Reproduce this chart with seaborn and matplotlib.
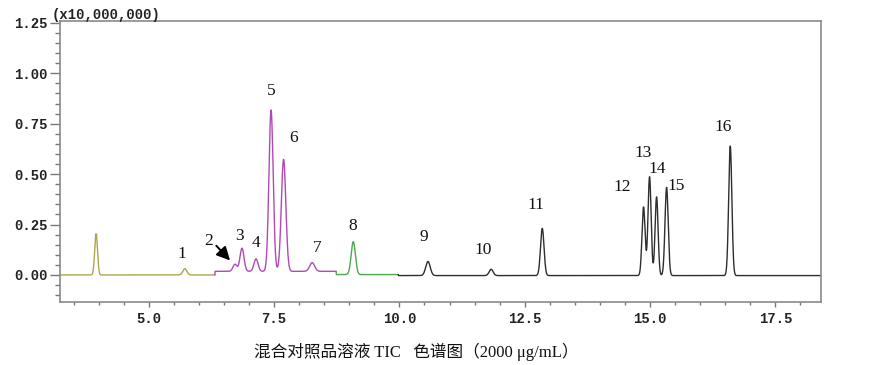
import numpy as np
import pandas as pd
import matplotlib
matplotlib.use("Agg")
import matplotlib.pyplot as plt
from matplotlib.ticker import MultipleLocator, FormatStrFormatter
import seaborn as sns

# peak table (retention time in min, height in x10,000,000 above segment baseline)
peak_labels = ["", "1", "2", "3", "4", "5", "6", "7", "8", "9", "10", "11", "12", "13", "14", "15", "16"]
peak_rt = [3.95, 5.72, 6.72, 6.86, 7.14, 7.44, 7.69, 8.26, 9.08, 10.57, 11.83, 12.85, 14.87, 14.99, 15.13, 15.33, 16.60]
peak_height = [0.205, 0.031, 0.035, 0.115, 0.062, 0.80, 0.555, 0.043, 0.163, 0.07, 0.031, 0.234, 0.34, 0.49, 0.39, 0.437, 0.642]
peak_sigma = [0.028, 0.04, 0.04, 0.04, 0.04, 0.042, 0.045, 0.05, 0.042, 0.045, 0.04, 0.035, 0.031, 0.031, 0.03, 0.032, 0.032]

# where each peak number is printed
label_x = [None, 5.66, 6.20, 6.81, 7.14, 7.44, 7.88, 8.37, 9.07, 10.49, 11.68, 12.73, 14.44, 14.86, 15.14, 15.52, 16.46]
label_y = [None, 0.105, 0.17, 0.195, 0.158, 0.912, 0.681, 0.134, 0.244, 0.188, 0.125, 0.348, 0.436, 0.607, 0.525, 0.442, 0.733]

# acquisition segments (each drawn in its own colour)
seg_names = ["seg1", "seg2", "seg3", "seg4"]
seg_start = [3.23, 6.32, 8.74, 9.98]
seg_base = [0.0, 0.018, 0.002, -0.003]
seg_colors = ["#aba64c", "#b04ab3", "#4ea84e", "#2e2e2e"]

x_min, x_max = 3.23, 18.41
y_min, y_max = -0.134, 1.259

caption = "混合对照品溶液 TIC   色谱图（2000 μg/mL）"

# build the trace from the peak table
t = np.linspace(x_min, x_max, 8000)
seg_idx = np.searchsorted(seg_start, t, side="right") - 1
signal = np.array(seg_base)[seg_idx].astype(float)
for rt, h, s in zip(peak_rt, peak_height, peak_sigma):
    signal = signal + h * np.exp(-0.5 * ((t - rt) / s) ** 2)

df = pd.DataFrame({"time": t, "signal": signal, "segment": np.array(seg_names)[seg_idx]})

# let each segment start from the last point of the one before, so the trace is joined
joins = []
for k in range(1, len(seg_names)):
    last = df[df["segment"] == seg_names[k - 1]].iloc[-1].copy()
    last["segment"] = seg_names[k]
    joins.append(last)
df = pd.concat([df, pd.DataFrame(joins)], ignore_index=True)
df["time"] = df["time"].astype(float)
df["signal"] = df["signal"].astype(float)

sns.set_style("ticks")
mono = ["Liberation Mono", "DejaVu Sans Mono"]
serif = ["Liberation Serif", "Noto Sans CJK SC"]

fig = plt.figure(figsize=(8.7, 3.65), dpi=100)
ax = fig.add_axes([60 / 870, 1 - 302 / 365, (821 - 60) / 870, (302 - 21) / 365])

sns.lineplot(data=df, x="time", y="signal", hue="segment",
             palette=dict(zip(seg_names, seg_colors)), estimator=None,
             linewidth=1.0, legend=False, ax=ax)

ax.set_xlim(x_min, x_max)
ax.set_ylim(y_min, y_max)
ax.set_xlabel("")
ax.set_ylabel("")

ax.xaxis.set_major_locator(MultipleLocator(2.5))
ax.xaxis.set_minor_locator(MultipleLocator(0.5))
ax.yaxis.set_major_locator(MultipleLocator(0.25))
ax.yaxis.set_minor_locator(MultipleLocator(0.05))
ax.xaxis.set_major_formatter(FormatStrFormatter("%.1f"))
ax.yaxis.set_major_formatter(FormatStrFormatter("%.2f"))

for sp in ax.spines.values():
    sp.set_visible(True)
    sp.set_color("#8a8a8a")
    sp.set_linewidth(1.2)

ax.tick_params(axis="y", which="major", direction="out", length=7.5, width=1.0, color="#777777", pad=1.5)
ax.tick_params(axis="y", which="minor", direction="out", length=3.6, width=1.0, color="#777777")
ax.tick_params(axis="x", which="major", direction="out", length=3.6, width=1.0, color="#777777", pad=3.5)
ax.tick_params(axis="x", which="minor", direction="out", length=2.2, width=1.0, color="#777777")
for lab in ax.get_xticklabels() + ax.get_yticklabels():
    lab.set_family(mono)
    lab.set_fontweight("bold")
    lab.set_fontsize(10)
    lab.set_color("#222222")

# peak numbers
for name, lx, ly in zip(peak_labels, label_x, label_y):
    if name:
        ax.text(lx, ly, name, ha="center", va="center", fontsize=12.5, family=serif, color="#111111")

# arrow pointing at the shoulder peak 2
ax.annotate("", xy=(6.66, 0.062), xytext=(6.31, 0.155),
            arrowprops=dict(arrowstyle="-|>,head_length=0.8,head_width=0.4", color="black", lw=1.4))

fig.text(52 / 870, 1 - 15 / 365, "(x10,000,000)", ha="left", va="center",
         fontsize=10, fontweight="bold", family=mono, color="#222222")
fig.text(416.7 / 870, 1 - 351.7 / 365, caption, ha="center", va="center",
         fontsize=12, family=serif, color="#111111")

fig.savefig("out.png", dpi=100)
